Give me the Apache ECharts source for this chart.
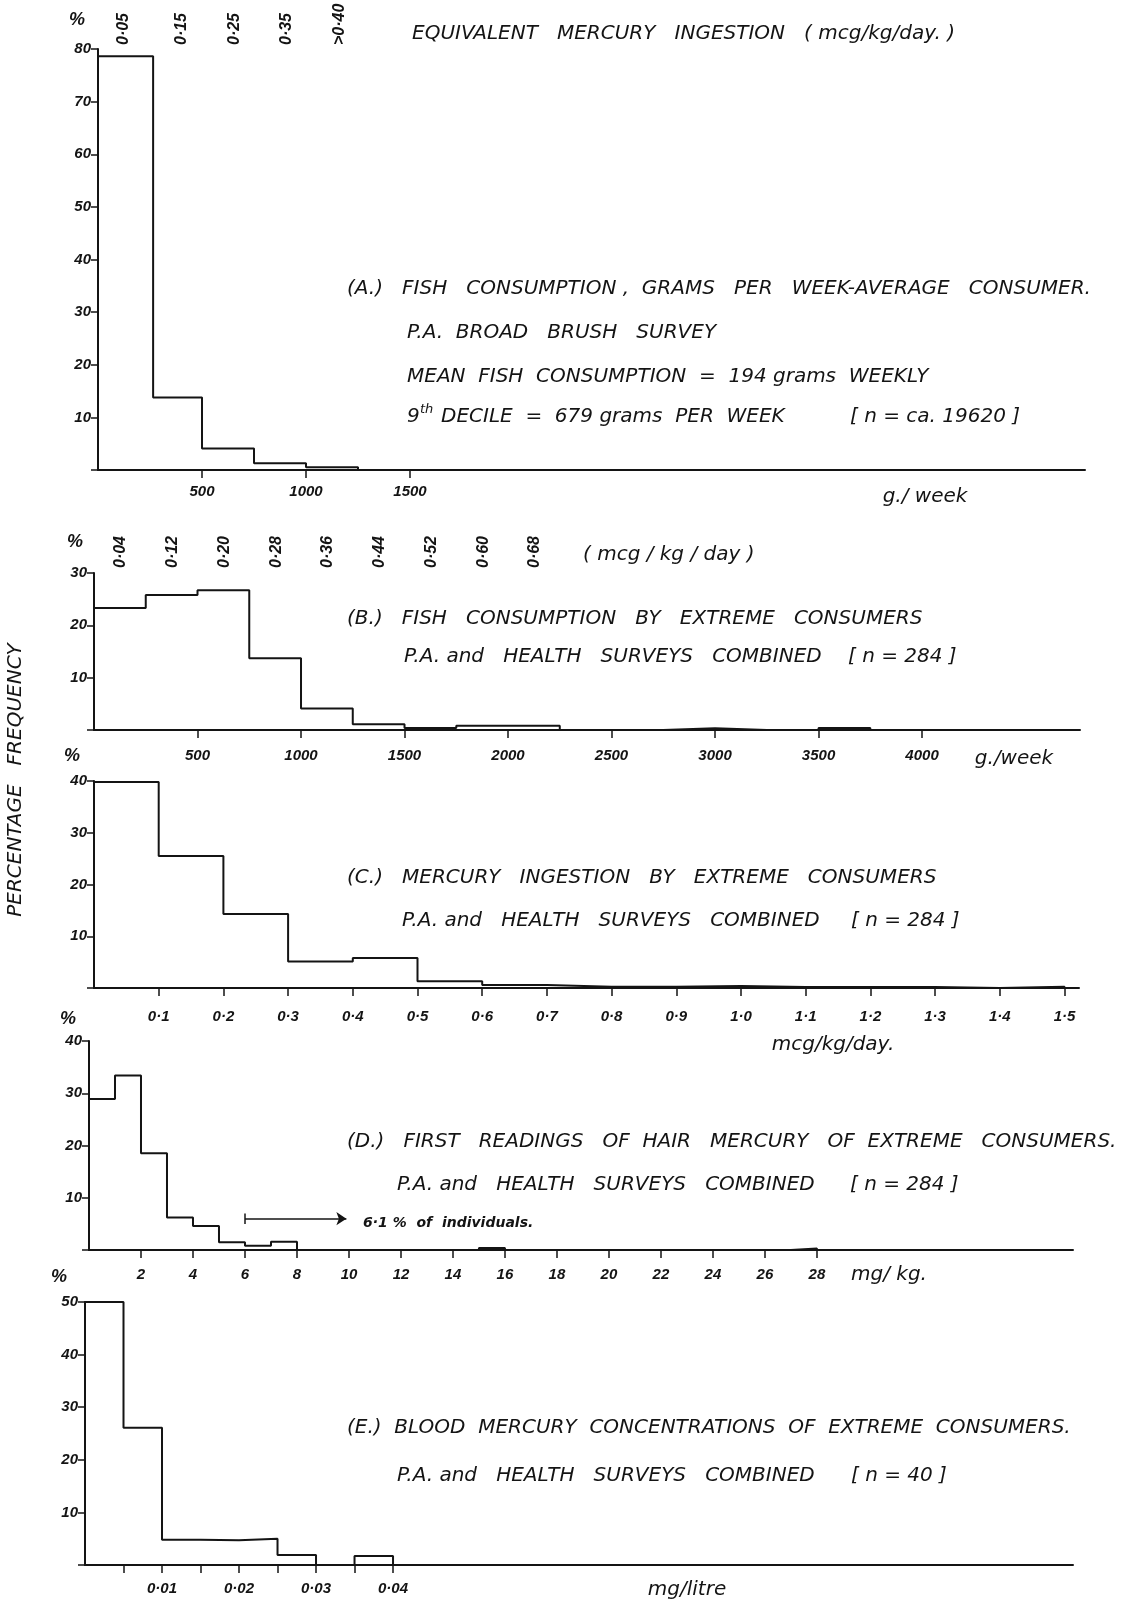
<!DOCTYPE html>
<html>
<head>
<meta charset="utf-8">
<script src="https://cdn.jsdelivr.net/npm/echarts@6/dist/echarts.min.js"></script>
<style>
  html, body { margin: 0; padding: 0; background: #fff; }
  #chart { width: 1121px; height: 1602px; }
</style>
</head>
<body>
<div id="chart"></div>
<script>
// (A) fish consumption, average consumer — g/week bins and % frequency
const aEdges = [0, 265, 500, 750, 1000, 1250];
const aPct = [78.6, 13.8, 4.1, 1.3, 0.5];
const aTicks = [500, 1000, 1500];
const aTopPos = [125, 400, 655, 905, 1160];
const aTopLabels = ['0·05', '0·15', '0·25', '0·35', '>0·40'];

// (B) fish consumption by extreme consumers — g/week
const bEdges = [0, 250, 500, 750, 1000, 1250, 1500, 1750, 2000, 2250, 2500, 2750, 3000, 3250, 3500, 3750];
const bPct = [23.3, 25.8, 26.7, 13.7, 4.1, 1.1, 0.4, 0.8, 0.8, 0, 0, 0.35, 0, 0, 0.4];
const bTicks = [500, 1000, 1500, 2000, 2500, 3000, 3500, 4000];
const bTopPos = [130, 380, 630, 880, 1130, 1380, 1630, 1880, 2130];
const bTopLabels = ['0·04', '0·12', '0·20', '0·28', '0·36', '0·44', '0·52', '0·60', '0·68'];

// (C) mercury ingestion by extreme consumers — mcg/kg/day
const cEdges = [0, 0.1, 0.2, 0.3, 0.4, 0.5, 0.6, 0.7, 0.8, 0.9, 1.0, 1.1, 1.2, 1.3, 1.4, 1.5];
const cPct = [39.8, 25.5, 14.3, 5.1, 5.8, 1.3, 0.6, 0.25, 0.25, 0.4, 0.2, 0.2, 0.2, 0, 0.25];
const cTicks = [0.1, 0.2, 0.3, 0.4, 0.5, 0.6, 0.7, 0.8, 0.9, 1.0, 1.1, 1.2, 1.3, 1.4, 1.5];

// (D) first readings of hair mercury — mg/kg
const dEdges = [0, 1, 2, 3, 4, 5, 6, 7, 8, 9, 10, 11, 12, 13, 14, 15, 16, 17, 18, 19, 20, 21, 22, 23, 24, 25, 26, 27, 28];
const dPct = [28.9, 33.4, 18.5, 6.2, 4.6, 1.5, 0.8, 1.6, 0, 0, 0, 0, 0, 0, 0, 0.4, 0, 0, 0, 0, 0, 0, 0, 0, 0, 0, 0, 0.3];
const dTicks = [2, 4, 6, 8, 10, 12, 14, 16, 18, 20, 22, 24, 26, 28];
const dRange = [6, 9.9];      // bracket: readings of 6 mg/kg and over
const dRangeLevel = 6;

// (E) blood mercury concentrations — mg/litre
const eEdges = [0, 0.005, 0.01, 0.015, 0.02, 0.025, 0.03, 0.035, 0.04];
const ePct = [50, 26.1, 4.8, 4.7, 5.0, 1.9, 0, 1.7];
const eTicks = [0.005, 0.01, 0.015, 0.02, 0.025, 0.03, 0.035, 0.04];
const eLabels = [0.01, 0.02, 0.03, 0.04];

const INK = '#141414';
const NUM_FONT = { fontFamily: 'Liberation Sans', fontStyle: 'italic', fontWeight: 'bold', fontSize: 15, color: INK };
const TXT_FONT = "italic 20px 'DejaVu Sans'";
const PCT_FONT = "italic bold 18px 'Liberation Sans'";
const NOTE_FONT = "italic bold 14px 'DejaVu Sans'";

// outline of a histogram as a stepped polyline through the bin edges
function outline(edges, vals) {
  const pts = [[edges[0], 0]];
  vals.forEach((v, i) => pts.push([edges[i], v]));
  pts.push([edges[edges.length - 1], vals[vals.length - 1]]);
  pts.push([edges[edges.length - 1], 0]);
  return pts;
}

const dec = n => v => v.toFixed(n).replace('.', '·');

const grids = [
  { left: 98, top: 49, width: 987, height: 421 },
  { left: 94, top: 573, width: 986, height: 157 },
  { left: 94, top: 781, width: 985, height: 207 },
  { left: 89, top: 1041, width: 984, height: 209 },
  { left: 85, top: 1302, width: 988, height: 263 }
].map(g => Object.assign({ outerBoundsMode: 'none', containLabel: false }, g));

function bottomAxis(grid, max, ticks, labels, fmt, margin) {
  return {
    type: 'value', gridIndex: grid, position: 'bottom', min: 0, max: max,
    axisLine: { show: true, onZero: false, lineStyle: { color: INK, width: 2 } },
    axisTick: { show: true, inside: false, length: 8, customValues: ticks, lineStyle: { color: INK, width: 1.5 } },
    axisLabel: Object.assign({ show: true, margin: margin, customValues: labels, formatter: fmt }, NUM_FONT),
    splitLine: { show: false }
  };
}

function topAxis(grid, max, pos, labels, margin) {
  return {
    type: 'value', gridIndex: grid, position: 'top', min: 0, max: max,
    axisLine: { show: false }, axisTick: { show: false }, splitLine: { show: false },
    axisLabel: Object.assign({
      show: true, rotate: 90, margin: margin, customValues: pos,
      formatter: v => labels[pos.indexOf(v)] || ''
    }, NUM_FONT, { fontSize: 16 })
  };
}

function leftAxis(grid, max) {
  return {
    type: 'value', gridIndex: grid, min: 0, max: max, interval: 10,
    axisLine: { show: true, lineStyle: { color: INK, width: 2 } },
    axisTick: { show: true, inside: false, length: 7, lineStyle: { color: INK, width: 1.5 } },
    axisLabel: Object.assign({ margin: 7, formatter: v => (v === 0 ? '' : String(v)) }, NUM_FONT),
    splitLine: { show: false }
  };
}

function histSeries(x, y, edges, vals, extra) {
  return Object.assign({
    type: 'line', xAxisIndex: x, yAxisIndex: y, step: 'end',
    data: outline(edges, vals), showSymbol: false, symbol: 'none',
    lineStyle: { color: INK, width: 2 }, animation: false, silent: true, clip: false
  }, extra || {});
}

function txt(x, y, text, opts) {
  opts = opts || {};
  return {
    type: 'text', x: x, y: y, rotation: opts.rotation || 0, silent: true,
    style: {
      text: text, fill: INK, font: opts.font || TXT_FONT,
      align: opts.align || 'left', verticalAlign: 'middle'
    }
  };
}

const SURVEYS = 'P.A. and   HEALTH   SURVEYS   COMBINED';

const texts = [
  txt(16, 780, 'PERCENTAGE   FREQUENCY', { rotation: Math.PI / 2, align: 'center' }),

  txt(77, 20, '%', { align: 'center', font: PCT_FONT }),
  txt(412, 34, 'EQUIVALENT   MERCURY   INGESTION   ( mcg/kg/day. )'),
  txt(347, 289, '(A.)   FISH   CONSUMPTION ,  GRAMS   PER   WEEK-AVERAGE   CONSUMER.'),
  txt(407, 333, 'P.A.  BROAD   BRUSH   SURVEY'),
  txt(407, 377, 'MEAN  FISH  CONSUMPTION  =  194 grams  WEEKLY'),
  txt(407, 417, '9'),
  txt(420, 410, 'th', { font: "italic 13px 'DejaVu Sans'" }),
  txt(441, 417, 'DECILE  =  679 grams  PER  WEEK'),
  txt(850, 417, '[ n = ca. 19620 ]'),
  txt(925, 497, 'g./ week', { align: 'center' }),

  txt(75, 542, '%', { align: 'center', font: PCT_FONT }),
  txt(583, 555, '( mcg / kg / day )'),
  txt(347, 619, '(B.)   FISH   CONSUMPTION   BY   EXTREME   CONSUMERS'),
  txt(404, 657, SURVEYS),
  txt(848, 657, '[ n = 284 ]'),
  txt(1014, 759, 'g./week', { align: 'center' }),

  txt(72, 756, '%', { align: 'center', font: PCT_FONT }),
  txt(347, 878, '(C.)   MERCURY   INGESTION   BY   EXTREME   CONSUMERS'),
  txt(402, 921, SURVEYS),
  txt(851, 921, '[ n = 284 ]'),
  txt(833, 1045, 'mcg/kg/day.', { align: 'center' }),

  txt(68, 1019, '%', { align: 'center', font: PCT_FONT }),
  txt(347, 1142, '(D.)   FIRST   READINGS   OF  HAIR   MERCURY   OF  EXTREME   CONSUMERS.'),
  txt(397, 1185, SURVEYS),
  txt(850, 1185, '[ n = 284 ]'),
  txt(363, 1223, '6·1 %  of  individuals.', { font: NOTE_FONT }),
  txt(889, 1275, 'mg/ kg.', { align: 'center' }),

  txt(59, 1277, '%', { align: 'center', font: PCT_FONT }),
  txt(347, 1428, '(E.)  BLOOD  MERCURY  CONCENTRATIONS  OF  EXTREME  CONSUMERS.'),
  txt(397, 1476, SURVEYS),
  txt(851, 1476, '[ n = 40 ]'),
  txt(687, 1590, 'mg/litre', { align: 'center' })
];

const option = {
  backgroundColor: '#fff',
  animation: false,
  grid: grids,
  xAxis: [
    bottomAxis(0, 4745, aTicks, aTicks, v => String(v), 14),
    bottomAxis(1, 4763, bTicks, bTicks, v => String(v), 18),
    bottomAxis(2, 1.5224, cTicks, cTicks, dec(1), 21),
    bottomAxis(3, 37.85, dTicks, dTicks, v => String(v), 17),
    bottomAxis(4, 0.1283, eTicks, eLabels, dec(2), 16),
    topAxis(0, 4745, aTopPos, aTopLabels, 4),
    topAxis(1, 4763, bTopPos, bTopLabels, 5)
  ],
  yAxis: [
    leftAxis(0, 80),
    leftAxis(1, 30),
    leftAxis(2, 40),
    leftAxis(3, 40),
    leftAxis(4, 50)
  ],
  series: [
    histSeries(0, 0, aEdges, aPct),
    histSeries(1, 1, bEdges, bPct),
    histSeries(2, 2, cEdges, cPct),
    histSeries(3, 3, dEdges, dPct, {
      markLine: {
        silent: true, animation: false,
        label: { show: false },
        lineStyle: { color: INK, width: 1.5, type: 'solid' },
        symbol: ['none', 'arrow'], symbolSize: 10,
        data: [
          [{ coord: [dRange[0], dRangeLevel] }, { coord: [dRange[1], dRangeLevel] }],
          [{ coord: [dRange[0], dRangeLevel - 1] }, { coord: [dRange[0], dRangeLevel + 1], symbol: 'none' }]
        ]
      }
    }),
    histSeries(4, 4, eEdges, ePct)
  ],
  graphic: texts
};

const chart = echarts.init(document.getElementById('chart'), null, { renderer: 'canvas' });
chart.setOption(option);
</script>
</body>
</html>
